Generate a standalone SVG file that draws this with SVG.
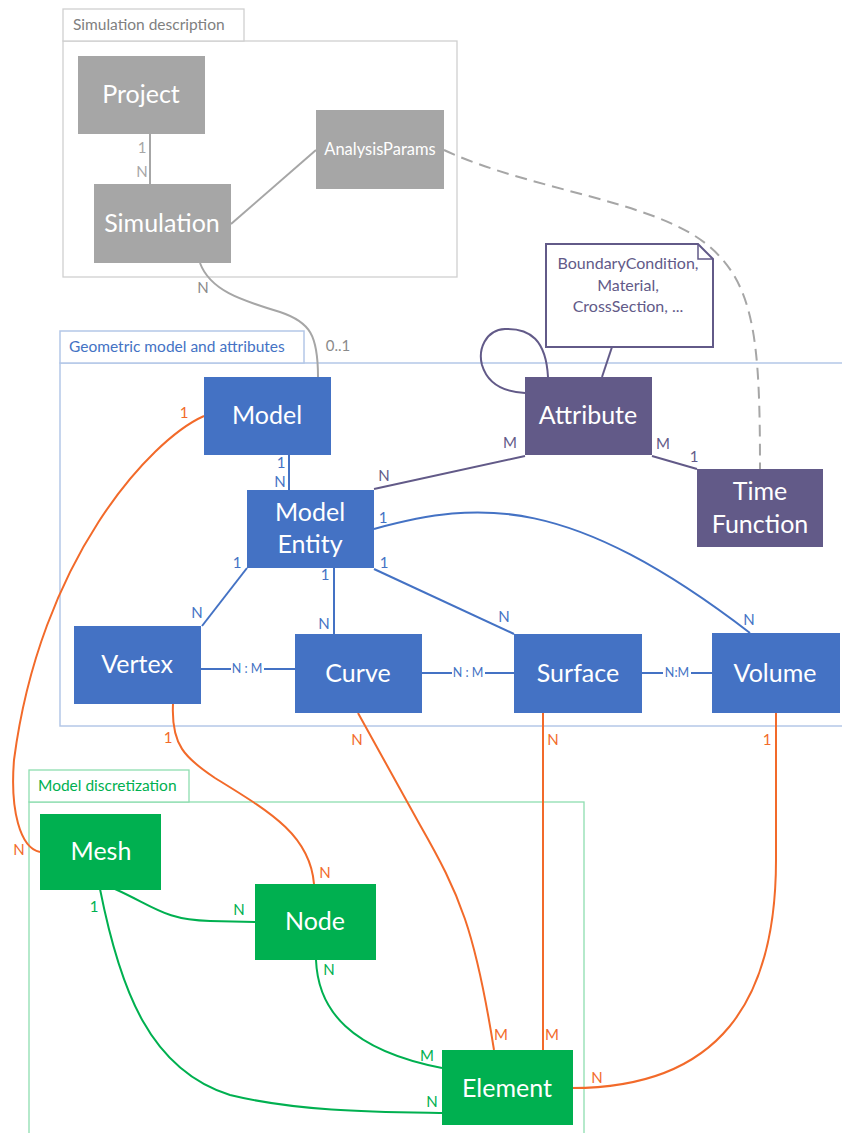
<svg xmlns="http://www.w3.org/2000/svg" width="842" height="1133" viewBox="0 0 842 1133">
  <style>
    text { font-family: Lato, "Open Sans", "Liberation Sans", sans-serif; }
    .box-gray { fill: #A6A6A6; }
    .box-blue { fill: #4472C4; }
    .box-purple { fill: #625A88; }
    .box-green { fill: #00B050; }
    .title { fill: #FFFFFF; font-size: 25px; text-anchor: middle; }
    .small-title { fill: #FFFFFF; font-size: 16.5px; text-anchor: middle; }
    .frame-gray { fill: none; stroke: #D0D0D0; stroke-width: 1.3; }
    .frame-blue { fill: none; stroke: #B4C7E7; stroke-width: 1.5; }
    .frame-green { fill: none; stroke: #8EDDB0; stroke-width: 1.3; }
    .tab { fill: #FFFFFF; }
    .frame-label { font-size: 15.5px; }
    .c-gray { fill: none; stroke: #A6A6A6; stroke-width: 2; }
    .c-blue { fill: none; stroke: #4472C4; stroke-width: 2; }
    .c-purple { fill: none; stroke: #625A88; stroke-width: 2; }
    .c-orange { fill: none; stroke: #F26A2A; stroke-width: 2; }
    .c-green { fill: none; stroke: #00B050; stroke-width: 2; }
    .c-dash { fill: none; stroke: #A6A6A6; stroke-width: 2; stroke-dasharray: 12 7; }
    .lbl { font-size: 15px; text-anchor: middle; }
    .nm { font-size: 12.5px; text-anchor: middle; fill: #4472C4; }
    .l-gray { fill: #A6A6A6; }
    .l-dgray { fill: #8A8A8A; }
    .l-blue { fill: #4472C4; }
    .l-purple { fill: #625A88; }
    .l-orange { fill: #F26A2A; }
    .l-green { fill: #00B050; }
  </style>

  <!-- Frames -->
  <g id="frame-simulation">
    <rect class="frame-gray" x="63" y="41" width="394" height="236"/>
    <rect class="frame-gray tab" x="63" y="9" width="181" height="32"/>
    <text class="frame-label" x="73" y="30" fill="#808080">Simulation description</text>
  </g>
  <g id="frame-geometry">
    <rect class="frame-blue" x="60" y="363" width="800" height="363"/>
    <rect class="frame-blue tab" x="60" y="331" width="244" height="32"/>
    <text class="frame-label" x="69" y="352" fill="#4472C4">Geometric model and attributes</text>
  </g>
  <g id="frame-discretization">
    <rect class="frame-green" x="29" y="802" width="555" height="360"/>
    <rect class="frame-green tab" x="29" y="770" width="160" height="32"/>
    <text class="frame-label" x="38" y="791" fill="#00B050">Model discretization</text>
  </g>

  <!-- Connectors -->
  <g id="connectors">
    <!-- simulation description -->
    <line class="c-gray" x1="150" y1="134" x2="150" y2="184"/>
    <line class="c-gray" x1="231" y1="224" x2="316" y2="150"/>
    <path class="c-gray" d="M200,263 C210,290 240,300 280,312 C310,322 318,335 318,377"/>
    <path class="c-dash" d="M444,150 C530,190 650,200 705,243 C755,282 760,340 760,469"/>

    <!-- attributes -->
    <path class="c-purple" d="M548,377 C546,340 530,328 505,329 C485,330 478,350 482,365 C488,385 505,392 525,393"/>
    <line class="c-purple" x1="612" y1="347" x2="602" y2="377"/>
    <line class="c-purple" x1="525" y1="456" x2="374" y2="489"/>
    <line class="c-purple" x1="652" y1="456" x2="697" y2="469"/>

    <!-- geometric model -->
    <line class="c-blue" x1="289" y1="455" x2="289" y2="490"/>
    <line class="c-blue" x1="247" y1="568" x2="202" y2="626"/>
    <line class="c-blue" x1="334" y1="568" x2="334" y2="634"/>
    <line class="c-blue" x1="374" y1="569" x2="514" y2="634"/>
    <path class="c-blue" d="M374,529 C480,500 570,495 750,633"/>
    <line class="c-blue" x1="201" y1="669" x2="231" y2="669"/>
    <line class="c-blue" x1="264" y1="669" x2="295" y2="669"/>
    <line class="c-blue" x1="422" y1="673" x2="452" y2="673"/>
    <line class="c-blue" x1="485" y1="673" x2="514" y2="673"/>
    <line class="c-blue" x1="642" y1="673" x2="663" y2="673"/>
    <line class="c-blue" x1="691" y1="673" x2="712" y2="673"/>

    <!-- geometry to discretization -->
    <path class="c-orange" d="M204,416 C150,440 40,560 14,760 C10,810 20,848 40,852"/>
    <path class="c-orange" d="M173,704 C171,745 185,758 215,778 C270,812 310,835 314,884"/>
    <path class="c-orange" d="M358,713 L420,825 C460,895 475,930 494,1050"/>
    <line class="c-orange" x1="543" y1="713" x2="543" y2="1050"/>
    <path class="c-orange" d="M776,713 L776,860 C776,1000 720,1088 572,1088"/>

    <!-- discretization -->
    <path class="c-green" d="M115,889 C155,907 165,920 210,921 L255,922"/>
    <path class="c-green" d="M100,889 C120,990 150,1070 230,1095 C300,1112 380,1112 442,1113"/>
    <path class="c-green" d="M316,960 C318,1010 350,1050 442,1068"/>
  </g>

  <!-- Nodes -->
  <g id="node-project">
    <rect class="box-gray" x="78" y="56" width="127" height="78"/>
    <text class="title" x="141" y="103">Project</text>
  </g>
  <g id="node-simulation">
    <rect class="box-gray" x="94" y="184" width="137" height="79"/>
    <text class="title" x="162" y="232">Simulation</text>
  </g>
  <g id="node-analysisparams">
    <rect class="box-gray" x="316" y="110" width="128" height="79"/>
    <text class="small-title" x="380" y="155">AnalysisParams</text>
  </g>
  <g id="node-model">
    <rect class="box-blue" x="204" y="377" width="127" height="78"/>
    <text class="title" x="267" y="424">Model</text>
  </g>
  <g id="node-attribute">
    <rect class="box-purple" x="525" y="377" width="127" height="78"/>
    <text class="title" x="588" y="424">Attribute</text>
  </g>
  <g id="node-note">
    <path d="M546,244 L698,244 L713,259 L713,347 L546,347 Z" fill="#FFFFFF" stroke="#625A88" stroke-width="2"/>
    <path d="M698,244 L698,259 L713,259" fill="none" stroke="#625A88" stroke-width="1.5"/>
    <text x="628" y="269" font-size="16" text-anchor="middle" fill="#625A88">BoundaryCondition,</text>
    <text x="628" y="291" font-size="16" text-anchor="middle" fill="#625A88">Material,</text>
    <text x="628" y="312" font-size="16" text-anchor="middle" fill="#625A88">CrossSection, ...</text>
  </g>
  <g id="node-timefunction">
    <rect class="box-purple" x="697" y="469" width="126" height="78"/>
    <text class="title" x="760" y="500">Time</text>
    <text class="title" x="760" y="533">Function</text>
  </g>
  <g id="node-modelentity">
    <rect class="box-blue" x="247" y="490" width="127" height="78"/>
    <text class="title" x="310" y="521">Model</text>
    <text class="title" x="310" y="553">Entity</text>
  </g>
  <g id="node-vertex">
    <rect class="box-blue" x="74" y="626" width="127" height="78"/>
    <text class="title" x="137" y="673">Vertex</text>
  </g>
  <g id="node-curve">
    <rect class="box-blue" x="295" y="634" width="127" height="79"/>
    <text class="title" x="358" y="682">Curve</text>
  </g>
  <g id="node-surface">
    <rect class="box-blue" x="514" y="634" width="128" height="79"/>
    <text class="title" x="578" y="682">Surface</text>
  </g>
  <g id="node-volume">
    <rect class="box-blue" x="712" y="633" width="128" height="80"/>
    <text class="title" x="775" y="682">Volume</text>
  </g>
  <g id="node-mesh">
    <rect class="box-green" x="40" y="814" width="121" height="76"/>
    <text class="title" x="101" y="860">Mesh</text>
  </g>
  <g id="node-node">
    <rect class="box-green" x="255" y="884" width="121" height="76"/>
    <text class="title" x="315" y="930">Node</text>
  </g>
  <g id="node-element">
    <rect class="box-green" x="442" y="1050" width="131" height="75"/>
    <text class="title" x="507" y="1097">Element</text>
  </g>

  <!-- Cardinalities -->
  <g id="labels">
    <text class="lbl l-gray" x="142" y="153">1</text>
    <text class="lbl l-gray" x="142" y="177">N</text>
    <text class="lbl l-dgray" x="203" y="293">N</text>
    <text class="lbl l-dgray" x="338" y="351">0..1</text>

    <text class="lbl l-purple" x="510" y="448">M</text>
    <text class="lbl l-purple" x="384" y="481">N</text>
    <text class="lbl l-purple" x="663" y="449">M</text>
    <text class="lbl l-purple" x="694" y="462">1</text>

    <text class="lbl l-blue" x="281" y="468">1</text>
    <text class="lbl l-blue" x="280" y="487">N</text>
    <text class="lbl l-blue" x="383" y="523">1</text>
    <text class="lbl l-blue" x="237" y="568">1</text>
    <text class="lbl l-blue" x="384" y="568">1</text>
    <text class="lbl l-blue" x="325" y="580">1</text>
    <text class="lbl l-blue" x="197" y="618">N</text>
    <text class="lbl l-blue" x="324" y="629">N</text>
    <text class="lbl l-blue" x="504" y="622">N</text>
    <text class="lbl l-blue" x="749" y="625">N</text>
    <text class="nm" x="247" y="673">N : M</text>
    <text class="nm" x="468" y="677">N : M</text>
    <text class="nm" x="677" y="677">N:M</text>

    <text class="lbl l-orange" x="184" y="418">1</text>
    <text class="lbl l-orange" x="168" y="743">1</text>
    <text class="lbl l-orange" x="357" y="745">N</text>
    <text class="lbl l-orange" x="553" y="745">N</text>
    <text class="lbl l-orange" x="767" y="745">1</text>
    <text class="lbl l-orange" x="19" y="855">N</text>
    <text class="lbl l-orange" x="325" y="878">N</text>
    <text class="lbl l-orange" x="501" y="1040">M</text>
    <text class="lbl l-orange" x="552" y="1040">M</text>
    <text class="lbl l-orange" x="597" y="1083">N</text>

    <text class="lbl l-green" x="94" y="912">1</text>
    <text class="lbl l-green" x="239" y="915">N</text>
    <text class="lbl l-green" x="329" y="975">N</text>
    <text class="lbl l-green" x="427" y="1061">M</text>
    <text class="lbl l-green" x="432" y="1107">N</text>
  </g>
</svg>
